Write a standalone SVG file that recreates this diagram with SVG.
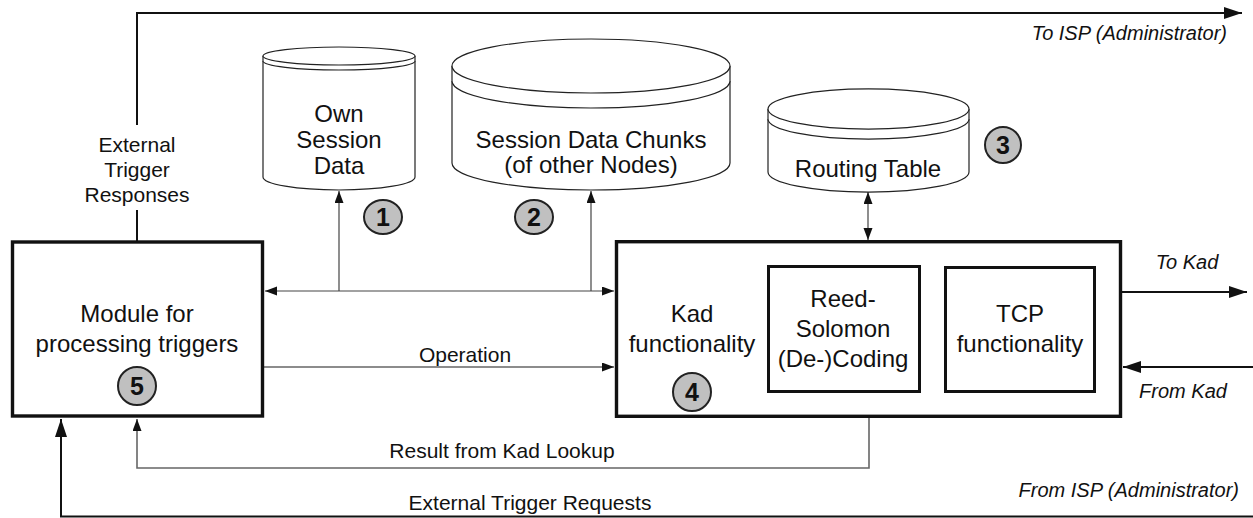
<svg xmlns="http://www.w3.org/2000/svg" width="1253" height="518" viewBox="0 0 1253 518">
<style>
text{font-family:"Liberation Sans",Arial,sans-serif;fill:#111;text-anchor:middle}
.n{font-size:24px}
.c{font-size:24px}
.l{font-size:21px}
.i{font-size:20px;font-style:italic}
.num{font-size:25px;font-weight:bold}
.box{fill:#fff;stroke:#111;stroke-width:3.4}
.cyl{fill:#fff;stroke:#222;stroke-width:1.2}
.badge{fill:#c0c0c0;stroke:#222;stroke-width:2}
.thin{fill:none;stroke:#444;stroke-width:1.2}
.gray{fill:none;stroke:#666;stroke-width:1.6}
.thick{fill:none;stroke:#111;stroke-width:2}
</style>
<defs>
<marker id="ab" markerUnits="userSpaceOnUse" markerWidth="20" markerHeight="14" refX="18" refY="6" orient="auto-start-reverse"><path d="M0,0 L18,6 L0,12 Z" fill="#111"/></marker>
<marker id="as" markerUnits="userSpaceOnUse" markerWidth="14" markerHeight="10" refX="12" refY="4.5" orient="auto-start-reverse"><path d="M0,0 L12,4.5 L0,9 Z" fill="#111"/></marker>
</defs>
<g id="connectors">
<path class="thick" d="M137,241 V210 M137,125 V13 H1242" marker-end="url(#ab)"/>
<path class="thin" d="M265,291 H614" marker-start="url(#as)" marker-end="url(#as)"/>
<path class="thin" d="M339,291 V191" marker-end="url(#as)"/>
<path class="thin" d="M591,291 V191" marker-end="url(#as)"/>
<path class="thin" d="M868,192 V240" marker-start="url(#as)" marker-end="url(#as)"/>
<path class="gray" d="M264,367 H614" marker-end="url(#as)"/>
<path class="gray" d="M869,418 V468 H137 V419" marker-end="url(#as)"/>
<path class="thick" d="M1253,516.5 H61 V419" marker-end="url(#ab)"/>
<path class="thick" d="M1122,292 H1247" marker-end="url(#ab)"/>
<path class="thick" d="M1253,367 H1123" marker-end="url(#ab)"/>
<text class="l" x="137" y="152">External</text>
<text class="l" x="137" y="177">Trigger</text>
<text class="l" x="137" y="202">Responses</text>
<text class="l" x="465" y="362">Operation</text>
<text class="l" x="502" y="458">Result from Kad Lookup</text>
<text class="l" x="530" y="510">External Trigger Requests</text>
<text class="i" x="1227" y="40" style="text-anchor:end">To ISP (Administrator)</text>
<text class="i" x="1239" y="497" style="text-anchor:end">From ISP (Administrator)</text>
<text class="i" x="1187" y="269">To Kad</text>
<text class="i" x="1183" y="398">From Kad</text>
</g>
<g id="own-session-data">
<path class="cyl" d="M263,56 V177 A76,13 0 0 0 415,177 V56 A76,9 0 0 0 263,56 Z"/>
<path class="cyl" d="M263,56 A76,9 0 0 0 415,56 M263,61 A76,9 0 0 0 415,61"/>
<text class="c" x="339" y="122">Own</text>
<text class="c" x="339" y="148">Session</text>
<text class="c" x="339" y="174">Data</text>
<ellipse class="badge" cx="383" cy="217" rx="19" ry="17"/>
<text class="num" x="383" y="226">1</text>
</g>
<g id="session-data-chunks">
<path class="cyl" d="M452,66 V163 A139,27 0 0 0 730,163 V66 A139,27 0 0 0 452,66 Z"/>
<path class="cyl" d="M452,66 A139,27 0 0 0 730,66 M452,81 A139,27 0 0 0 730,81"/>
<text class="c" x="591" y="148">Session Data Chunks</text>
<text class="c" x="591" y="173">(of other Nodes)</text>
<ellipse class="badge" cx="534" cy="217" rx="19" ry="17"/>
<text class="num" x="534" y="226">2</text>
</g>
<g id="routing-table">
<path class="cyl" d="M768,109 V172 A100,20 0 0 0 969,172 V109 A100,20 0 0 0 768,109 Z"/>
<path class="cyl" d="M768,109 A100,20 0 0 0 969,109 M768,119 A100,20 0 0 0 969,119"/>
<text class="c" x="868" y="177">Routing Table</text>
<ellipse class="badge" cx="1003" cy="145" rx="18" ry="18"/>
<text class="num" x="1003" y="154">3</text>
</g>
<g id="trigger-module">
<rect class="box" x="12.5" y="242" width="250" height="174"/>
<text class="n" x="137" y="322">Module for</text>
<text class="n" x="137" y="352">processing triggers</text>
<circle class="badge" cx="137" cy="386" r="19"/>
<text class="num" x="137" y="395">5</text>
</g>
<g id="kad-module">
<rect class="box" x="616.5" y="241.7" width="504" height="174.6"/>
<text class="n" x="692" y="322">Kad</text>
<text class="n" x="692" y="352">functionality</text>
<circle class="badge" cx="692" cy="392" r="19"/>
<text class="num" x="692" y="401">4</text>
</g>
<g id="reed-solomon">
<rect class="box" x="768.5" y="266.5" width="151" height="125" style="stroke-width:3"/>
<text class="n" x="843" y="307">Reed-</text>
<text class="n" x="843" y="337">Solomon</text>
<text class="n" x="843" y="367">(De-)Coding</text>
</g>
<g id="tcp">
<rect class="box" x="945.5" y="267.5" width="149" height="124" style="stroke-width:3"/>
<text class="n" x="1020" y="322">TCP</text>
<text class="n" x="1020" y="352">functionality</text>
</g>
</svg>
